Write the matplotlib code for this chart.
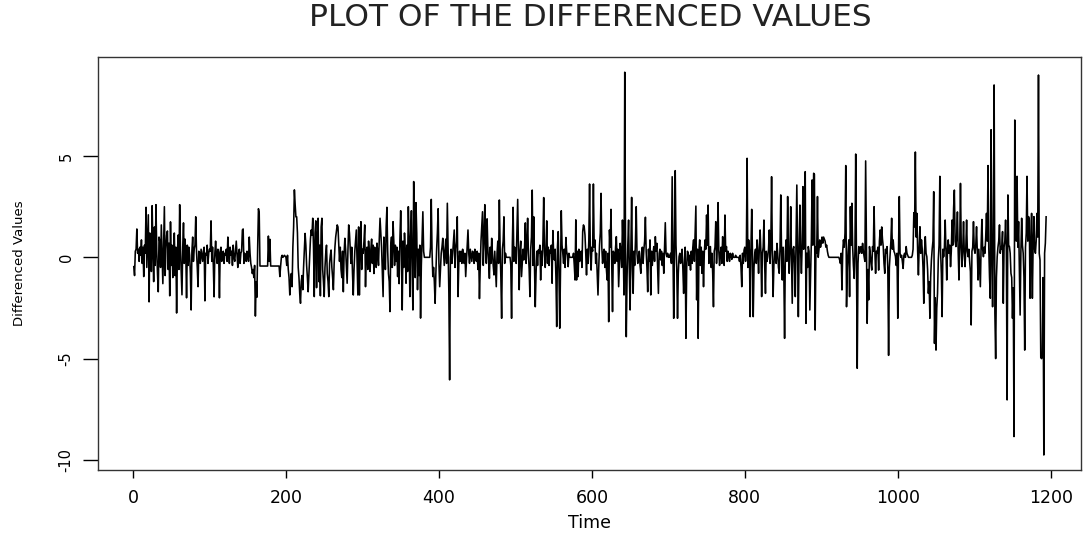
import numpy as np
import matplotlib
matplotlib.use("Agg")
import matplotlib.pyplot as plt

plt.rcParams["font.family"] = ["DejaVu Sans"]

# =========================
# Differenced values in blocks of 100 time steps
# =========================
d_0001 = [
    -0.46, -0.9, 0.3, 0.4, 1.4, 0.2, 0.4, -0.2, 0.5, 0.1,
    0.86, -0.3, 0.5, -0.95, 0.6, 0.2, 2.47, -0.5, 0.9, 2.1,
    -2.2, 1.2, 0.8, -0.7, 2.55, 0.4, -1.2, 1.5, -0.4, 2.6,
    0.3, -0.8, -1.7, 1.0, 0.8, -0.5, 1.6, 0.2, -1.3, 0.5,
    2.5, -0.9, 0.4, 1.1, 1.3, -0.6, 0.7, -1.9, 1.75, -0.4,
    0.6, -1.0, 0.3, 1.2, -0.9, 0.5, -2.75, 0.2, 1.1, -0.6,
    2.6, 0.4, -0.7, -1.85, 0.5, 1.7, -0.3, 0.9, 0.2, -2.0,
    0.6, -0.4, 0.5, 0.1, -0.8, -2.6, 0.3, 1.0, -0.2, 0.4,
    0.6, 2.0, 0.3, -0.5, -1.45, 0.3, 0.2, -0.3, 0.4, 0.1,
    -0.2, 0.3, 0.5, -2.15, 0.2, 0.1, 0.6, -0.3, 0.2, 0.4,
]
d_0101 = [
    0.3, 1.8, -0.2, 0.5, -0.4, -1.95, 0.2, 0.8, 0.1, -0.3,
    0.4, 0.2, -2.0, 0.3, 0.5, -0.2, 0.1, 0.3, -0.3, 0.2,
    0.1, 0.4, -0.2, 1.0, 0.2, -0.3, 0.5, 0.1, 0.3, -0.4,
    0.6, 0.0, -0.2, 0.3, 0.8, 0.1, -0.5, 0.2, 0.4, -0.3,
    0.2, 0.3, 1.35, 1.4, -0.3, 0.2, 0.1, -0.2, 0.3, 0.1,
    -0.2, 1.0, 0.2, -0.3, -0.5, -0.8, -0.6, -1.0, -0.4, -2.9,
    -1.2, -1.97, 0.5, 2.4, 2.2, -0.43, -0.43, -0.43, -0.43, -0.43,
    -0.43, -0.43, -0.43, -0.43, -0.43, -0.43, 1.05, -0.2, 0.89, -0.43,
    -0.43, -0.43, -0.43, -0.43, -0.43, -0.43, -0.43, -0.43, -0.43, -0.43,
    -0.43, -0.95, -0.43, 0.0, 0.1, 0.0, 0.05, 0.1, 0.05, 0.0,
]
d_0201 = [
    -0.4, 0.1, -0.6, -1.0, -1.86, -1.2, -0.8, -1.45, 0.5, 1.5,
    3.33, 2.6, 2.0, 2.0, 1.2, -0.5, -1.0, -1.8, -2.27, -1.2,
    -0.9, -1.6, -0.5, 0.3, 1.18, 0.6, -0.4, -1.0, -1.7, -0.8,
    0.2, 0.9, 1.35, 1.1, 1.93, 0.5, -1.94, 1.2, 1.8, -1.5,
    1.0, 1.93, -1.2, 0.6, -1.9, 1.5, 1.93, -0.6, -1.2, -1.94,
    -0.5, 0.2, 0.6, -0.8, -1.2, -1.94, -0.3, 0.1, 0.36, -0.5,
    -1.0, -1.6, -0.3, 0.5, 1.0, 1.3, 1.6, 1.5, 0.7, -0.2,
    0.5, -0.6, -1.0, 0.3, -1.7, 0.2, 0.94, 0.4, -0.5, -1.28,
    0.3, 1.6, 1.2, 0.4, -0.3, 0.5, -0.8, -1.86, -0.6, 0.3,
    0.8, 1.35, -0.3, -1.86, 1.5, -1.86, 0.6, 1.76, -0.6, 0.4,
]
d_0301 = [
    0.2, 0.8, 1.6, -1.45, 0.3, 0.5, -0.6, 0.8, 0.2, -0.7,
    0.4, 0.9, -0.3, 0.6, -0.8, 0.5, 0.3, -0.5, 0.7, 0.2,
    -0.4, 0.9, 1.93, 1.2, 0.5, -0.8, -1.94, 1.0, 0.3, -0.6,
    1.5, 2.47, 0.3, -0.8, -1.2, -2.68, 0.6, 1.0, -0.5, 1.76,
    0.8, -0.4, 0.6, -0.2, 0.5, -0.95, 0.3, -1.3, 0.9, 2.3,
    0.4, -2.6, 0.8, -0.5, 1.2, 0.3, -1.28, 0.6, -0.7, 2.5,
    0.9, -1.94, 1.0, 2.3, -0.8, -2.6, 3.74, 0.5, -1.0, 2.7,
    1.2, -1.6, 0.4, -0.9, 0.6, -3.0, -0.4, 1.0, 2.25, 0.3,
    0.0, 0.0, 0.0, 0.0, 0.0, 0.0, 0.0, 0.0, 0.5, 2.86,
    0.3, -0.95, -0.5, -1.2, -2.27, -0.8, 0.4, 1.2, 2.4, -0.3,
]
d_0401 = [
    -1.45, -0.6, 0.2, 0.5, 0.94, 0.3, -0.4, 0.36, 0.9, -0.3,
    2.67, 0.5, -1.78, -6.05, 0.0, 0.4, -0.3, 0.2, 0.8, 1.35,
    -0.5, 0.4, 0.8, 2.0, -1.94, -0.3, 0.3, -0.2, 0.3, -0.3,
    0.4, 0.1, -0.3, 0.2, -0.95, -0.2, 0.5, 1.35, 0.2, -0.3,
    0.4, 0.1, -0.2, 0.3, 0.2, -0.3, 0.4, 0.0, -0.2, 0.3,
    -0.6, 0.2, -2.04, -0.5, 0.8, 1.5, 2.25, -0.4, 0.9, 2.6,
    0.5, -0.3, 1.9, 0.4, -0.2, -1.04, 0.5, -0.3, 0.94, 0.2,
    -0.4, -0.87, 0.3, -0.6, -1.45, 0.2, 0.8, -0.3, 2.83, 0.5,
    -1.0, -3.01, 0.4, 0.8, 2.0, -0.3, 0.2, 0.0, 0.0, 0.0,
    0.0, 0.0, 0.0, -0.4, -3.01, 0.6, 2.47, -0.2, 0.5, 0.36,
]
d_0501 = [
    -0.3, 1.2, 2.86, 0.4, -1.6, 0.3, 0.8, -0.95, -0.3, 0.4,
    -0.13, 0.5, 1.7, -0.3, 0.6, 1.93, 0.2, -0.6, -1.94, 0.4,
    1.0, 3.32, -0.4, 2.0, -0.5, -2.44, -0.8, 0.3, -0.4, 0.36,
    0.2, 0.6, -1.12, 0.3, -0.4, 0.8, 2.95, 0.3, -0.5, 0.36,
    1.8, -0.3, 0.5, -0.4, 0.36, 0.2, 0.6, -1.28, 1.32, 0.2,
    -0.13, 0.4, -1.0, -3.42, 0.5, 1.27, -0.8, -3.5, -0.5, 2.3,
    0.6, 0.2, -0.3, 0.4, -0.5, 0.98, 0.3, 0.1, -0.46, 0.2,
    0.0, 0.0, 0.0, 0.0, 0.0, 0.2, -0.4, -1.12, 1.85, -1.12,
    0.3, -0.95, 0.4, -0.2, 0.0, 0.3, -0.5, 1.27, 1.6, 1.5,
    1.1, 0.2, -0.87, 0.4, -0.3, 0.8, 3.62, 0.2, -0.63, 0.5,
]
d_0601 = [
    0.3, 3.62, 0.5, 0.86, -0.3, 0.2, -0.8, -1.86, -0.5, 0.6,
    1.2, 3.16, 0.5, -0.3, 0.2, 0.4, -0.5, 0.3, -0.6, -1.12,
    0.2, -3.18, 1.35, 0.5, 2.37, -0.4, -2.68, 0.3, 0.2, -0.3,
    0.5, 1.02, -0.2, 0.4, -1.45, -0.3, 0.69, 0.2, -0.5, 1.84,
    0.4, -1.86, 9.14, 0.5, -3.92, -1.0, 0.6, 1.84, -0.7, -2.6,
    0.4, 2.96, -0.5, -1.78, 0.3, -0.4, 0.8, 2.5, 0.2, -0.3,
    -0.13, 0.3, -0.4, -0.79, 0.2, 0.5, -0.3, 0.4, 0.8, 1.98,
    0.3, -0.5, -1.7, 0.4, -0.2, 0.86, -1.86, 0.3, -0.4, 0.2,
    0.53, -0.2, 1.02, 0.3, 0.69, -0.5, -1.78, 0.2, 0.4, -0.13,
    0.3, -0.4, 0.2, -0.79, 0.5, 1.71, 0.2, 0.03, 0.2, 0.0,
]
d_0701 = [
    0.1, 0.0, 0.2, -0.3, 3.98, 0.5, -3.01, 0.3, 4.28, 0.6,
    -0.5, -3.01, -0.8, 0.03, 0.2, -0.3, -0.13, 0.4, -0.6, -1.78,
    -0.3, 0.5, -4.0, -0.5, 0.3, 0.2, -0.4, 0.1, -0.63, 0.3,
    -0.3, 0.5, 0.86, -0.2, 1.2, 2.53, -2.1, 0.4, -4.0, 0.3,
    0.86, -0.4, 0.5, -0.79, 0.3, -1.45, 0.2, 0.86, 0.4, 2.09,
    0.6, 2.58, -0.3, 0.4, 0.53, -0.5, 0.2, -0.8, -2.44, 0.3,
    0.5, 1.76, -0.3, 0.6, 2.7, 0.3, -0.4, 0.2, 0.5, -0.3,
    1.02, 0.2, -0.4, 2.09, 0.3, 0.53, -0.2, 0.3, 0.1, -0.2,
    0.2, 0.1, -0.1, 0.2, 0.0, 0.0, 0.0, 0.1, 0.0, 0.0,
    0.0, 0.0, -0.2, 0.1, -0.5, -1.45, 0.2, -0.3, 0.36, 0.5,
]
d_0801 = [
    -0.2, 0.3, 4.89, -0.5, 0.86, 0.3, -2.93, 0.4, 2.37, 0.2,
    -2.93, -0.5, 0.2, 0.4, -0.3, 0.86, 0.2, -0.79, 0.5, 1.35,
    0.3, -1.94, 0.2, 0.5, 1.84, -0.4, -1.78, 0.3, -0.2, 0.03,
    0.4, 1.35, -0.3, 0.5, 3.98, 0.2, -1.94, -0.4, 0.3, 0.2,
    -0.3, 0.69, 0.2, -0.5, -0.79, 0.4, 3.08, 0.3, -1.12, 0.5,
    -0.8, -4.0, 0.3, 0.86, -0.2, 3.0, 0.4, -0.79, 0.3, 2.5,
    0.2, -2.27, 0.4, 0.53, -0.3, -1.94, 0.8, 3.57, 0.5, -2.93,
    0.4, 2.58, 0.3, -0.79, 0.6, 3.49, 0.4, 1.2, 4.23, -3.26,
    0.2, -0.5, 0.53, 0.3, -2.6, -1.0, 0.8, 3.82, 0.6, 4.15,
    4.1, -3.59, 0.53, 0.2, 3.0, 0.0, 0.4, 0.86, 0.5, 0.7,
]
d_0901 = [
    1.0, 0.7, 1.0, 0.9, 0.8, 0.5, 0.6, 0.3, 0.1, 0.0,
    0.0, 0.0, 0.0, 0.0, 0.0, 0.0, 0.0, 0.0, 0.0, 0.0,
    0.0, 0.0, 0.0, -0.13, -0.3, 0.2, -1.61, 0.3, 0.86, 0.5,
    1.2, 4.53, -2.44, -0.5, 0.3, 0.86, -1.94, 2.5, 0.6, 2.67,
    0.53, -0.4, -1.04, 0.3, 5.1, -0.6, -5.48, -0.3, 0.53, 0.2,
    0.4, 0.53, 0.2, 0.69, 0.3, 0.03, -0.2, 4.76, 0.5, -3.26,
    -0.6, -2.1, 0.53, 0.2, -0.3, -0.63, 0.53, 0.3, 2.5, 0.4,
    -0.79, 0.3, 0.2, 0.5, -0.63, 0.8, 1.35, 0.6, 1.5, 0.9,
    0.53, -0.3, -0.79, 0.4, 0.2, 0.53, -0.6, -4.84, -0.5, 0.2,
    0.8, 1.93, 0.4, 0.86, 0.3, 0.2, 0.03, -0.4, 0.2, -3.01,
]
d_1001 = [
    0.4, 3.0, 0.2, 0.0, 0.1, -0.2, -0.55, 0.1, 0.2, 0.0,
    0.53, 0.2, 0.1, 0.0, 0.0, 0.0, 0.0, 0.0, 0.1, 0.4,
    2.2, 1.5, 5.2, 1.0, 2.17, 0.3, -0.87, 0.5, 1.51, 0.2,
    0.86, 0.4, -0.5, -2.27, 0.3, 1.02, 0.2, 0.03, -0.6, -1.78,
    -1.2, -3.01, -1.0, -0.13, 0.4, 0.8, 3.24, -4.25, -2.0, -4.58,
    -2.5, -1.78, -0.13, 0.6, 4.0, 0.3, -0.8, -2.93, 0.4, 0.03,
    0.5, 1.84, 0.3, -1.12, 0.4, 0.86, 0.2, 0.6, -0.46, 0.3,
    1.84, 0.6, 2.42, 3.32, 0.8, 0.53, 1.0, 2.24, 0.3, -1.12,
    0.5, 3.65, 0.6, -0.46, 0.4, 1.76, 0.2, -0.46, 0.5, 1.84,
    0.3, 0.03, 0.4, -0.2, -0.71, -3.34, 0.3, 0.5, 1.76, 0.4,
]
d_1101 = [
    0.2, 0.6, 1.51, 0.3, -1.12, 0.4, -0.5, -1.45, 0.6, 1.87,
    0.4, 0.03, 0.5, 0.2, 1.0, 2.17, 0.8, 4.53, 0.5, -1.0,
    -2.02, 6.3, 0.5, -2.44, 1.2, 8.51, -2.77, -5.0, -1.0, 0.03,
    0.5, 0.8, 1.6, 0.2, 0.53, 0.4, 1.27, -2.27, 0.5, 0.8,
    1.84, 0.3, -7.04, 3.08, 0.6, 0.53, 0.2, -0.79, -1.0, -3.01,
    -1.5, -8.85, 6.78, 2.0, 0.8, 4.0, 0.5, 1.76, -0.4, -2.85,
    0.3, 1.93, 0.6, 0.2, -1.0, -4.58, 0.5, 1.2, 4.0, 0.8,
    2.01, 1.84, -2.02, 0.5, 2.17, -2.02, 0.6, 2.01, 0.4, 0.2,
    0.8, 2.17, 1.0, 9.0, 0.2, -0.13, -4.95, -5.0, -4.9, -1.0,
    -9.76, 0.2, 0.7, 2.0,
]

x_ticks = [0, 200, 400, 600, 800, 1000, 1200]
y_ticks = [-10, -5, 0, 5]
y_tick_labels = ["-10", "-5", "0", "5"]

values = np.concatenate([d_0001, d_0101, d_0201, d_0301, d_0401, d_0501,
                         d_0601, d_0701, d_0801, d_0901, d_1001, d_1101])
time = np.arange(1, len(values) + 1)

# =========================
# Figure
# =========================
W, H = 1083, 534
fig = plt.figure(figsize=(W / 100, H / 100), dpi=100)
ax = fig.add_axes([98 / W, 64 / H, 983 / W, 413 / H])

ax.plot(time, values, color="black", lw=1.15)

ax.set_xlim(-45.8, 1239.6)
ax.set_ylim(-10.50, 9.89)

ax.set_xticks(x_ticks)
ax.set_xticklabels([str(v) for v in x_ticks])
ax.set_yticks(y_ticks)
ax.set_yticklabels(y_tick_labels, rotation=90, va="center")

ax.tick_params(axis="x", direction="out", length=5.5, width=1, pad=8, labelsize=12.5)
ax.tick_params(axis="y", direction="out", length=10.5, width=1, pad=7, labelsize=10.5)
for sp in ax.spines.values():
    sp.set_linewidth(1.0)
    sp.set_color("#333333")

fig.text(590 / W, 1 - 18 / H, "PLOT OF THE DIFFERENCED VALUES",
         ha="center", va="center", fontsize=22.5, color="#222222")
fig.text(590 / W, 1 - 523 / H, "Time", ha="center", va="center", fontsize=12.5)
fig.text(20 / W, 1 - 263 / H, "Differenced Values", ha="center", va="center",
         rotation=90, fontsize=9.5)

fig.savefig("out.png", dpi=100)
